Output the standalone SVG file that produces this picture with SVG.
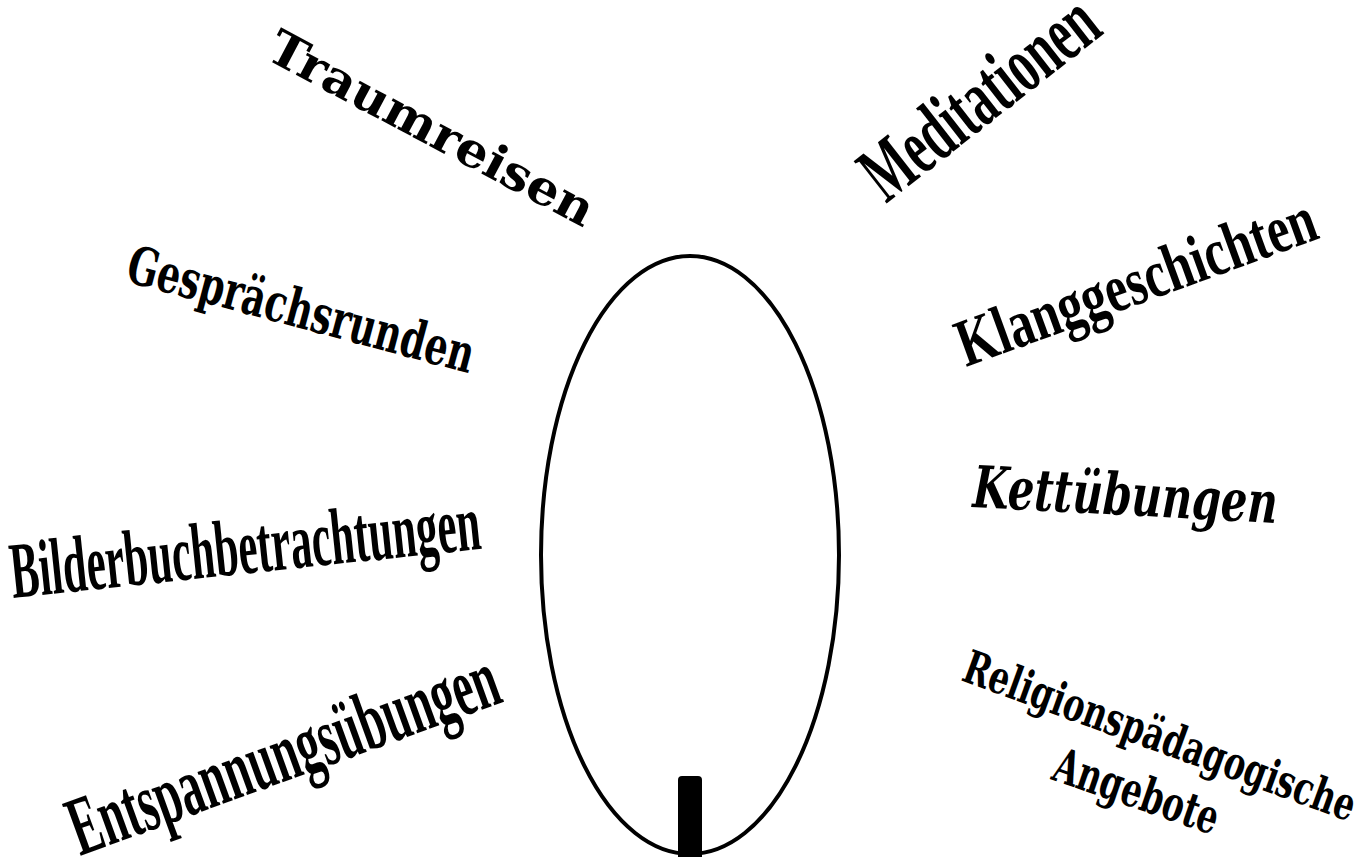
<svg xmlns="http://www.w3.org/2000/svg" width="1371" height="857" viewBox="0 0 1371 857">
<style>
.book{font-family:"DejaVu Serif","Liberation Serif",serif;fill:#000}
.times{font-family:"Liberation Serif","Times New Roman",serif;font-weight:bold;fill:#000}
</style>
<rect width="1371" height="857" fill="#fff"/>
<g id="candle">
<ellipse cx="690" cy="555" rx="149" ry="299" fill="none" stroke="#000" stroke-width="4"/>
<rect x="678" y="776" width="24" height="84" rx="4" fill="#000"/>
</g>
<g id="connectors"></g>
<g id="traumreisen"><text class="book" font-weight="bold" font-size="48" transform="translate(264,58) rotate(28)" textLength="362" lengthAdjust="spacingAndGlyphs">Traumreisen</text></g>
<g id="meditationen"><text class="times" font-size="82" transform="translate(886,204) rotate(-38)" textLength="278" lengthAdjust="spacingAndGlyphs">Meditationen</text></g>
<g id="gespraechsrunden"><text class="book" font-weight="bold" font-size="53" transform="translate(124,281) rotate(15)" textLength="357" lengthAdjust="spacingAndGlyphs">Gesprächsrunden</text></g>
<g id="klanggeschichten"><text class="times" font-size="68" transform="translate(966,367) rotate(-20)" textLength="378" lengthAdjust="spacingAndGlyphs">Klanggeschichten</text></g>
<g id="kettuebungen"><text class="book" font-weight="bold" font-style="italic" font-size="58" transform="translate(972,507) rotate(3)" textLength="305" lengthAdjust="spacingAndGlyphs">Kettübungen</text></g>
<g id="bilderbuch"><text class="times" font-size="80" transform="translate(13,598) rotate(-6)" textLength="472" lengthAdjust="spacingAndGlyphs">Bilderbuchbetrachtungen</text></g>
<g id="entspannung"><text class="times" font-size="84" transform="translate(80,856) rotate(-20)" textLength="452" lengthAdjust="spacingAndGlyphs">Entspannungsübungen</text></g>
<g id="religion">
<text class="book" font-weight="bold" font-size="46" transform="translate(960,680) rotate(20)" textLength="414" lengthAdjust="spacingAndGlyphs">Religionspädagogische</text>
<text class="book" font-weight="bold" font-size="48" transform="translate(1050,779) rotate(19)" textLength="172" lengthAdjust="spacingAndGlyphs">Angebote</text>
</g>
</svg>
